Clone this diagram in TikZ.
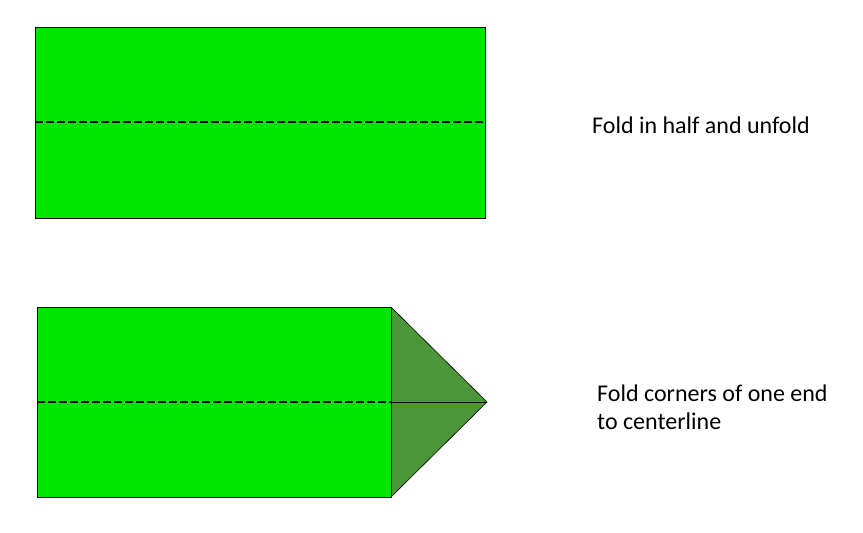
\documentclass[tikz,border=0pt]{standalone}
\usepackage{fontspec}
\setmainfont{Carlito}
\definecolor{paper}{HTML}{00E600}
\definecolor{flap}{HTML}{4A9638}
\tikzset{
  sheet/.style={draw=black, fill=paper, line width=1pt},
  flapshape/.style={draw=black, fill=flap, line width=0.6pt},
  crease/.style={draw=black, line width=2.5pt, dash pattern=on 8pt off 3pt},
  foldline/.style={draw=black, line width=1pt},
  caption/.style={anchor=west, align=left, font=\fontsize{24}{28}\selectfont, inner sep=0pt}
}
\begin{document}
\begin{tikzpicture}[x=1pt,y=-1pt]
\useasboundingbox (0,0) rectangle (863,533);
% top sheet
\node[sheet, minimum width=450pt, minimum height=191pt, inner sep=0pt, anchor=north west] (top) at (35,27) {};
\coordinate (tl) at (35,122);
\coordinate (tr) at (485,122);
\draw[crease] (tl) -- (tr);
\node[caption] (t1) at (592,125) {Fold in half and unfold};
% bottom sheet
\coordinate (a) at (391,307);
\coordinate (tip) at (487,402);
\coordinate (b) at (391,497);
\coordinate (mid) at (391,402);
\draw[flapshape] (a) -- (tip) -- (b) -- cycle;
\node[sheet, minimum width=354pt, minimum height=190pt, inner sep=0pt, anchor=north west] (bot) at (37,307) {};
\coordinate (bl) at (37,402);
\draw[crease] (bl) -- (mid);
\draw[foldline] (mid) -- (tip);
\node[caption] (t2) at (597,407) {Fold corners of one end\\to centerline};
\end{tikzpicture}
\end{document}
